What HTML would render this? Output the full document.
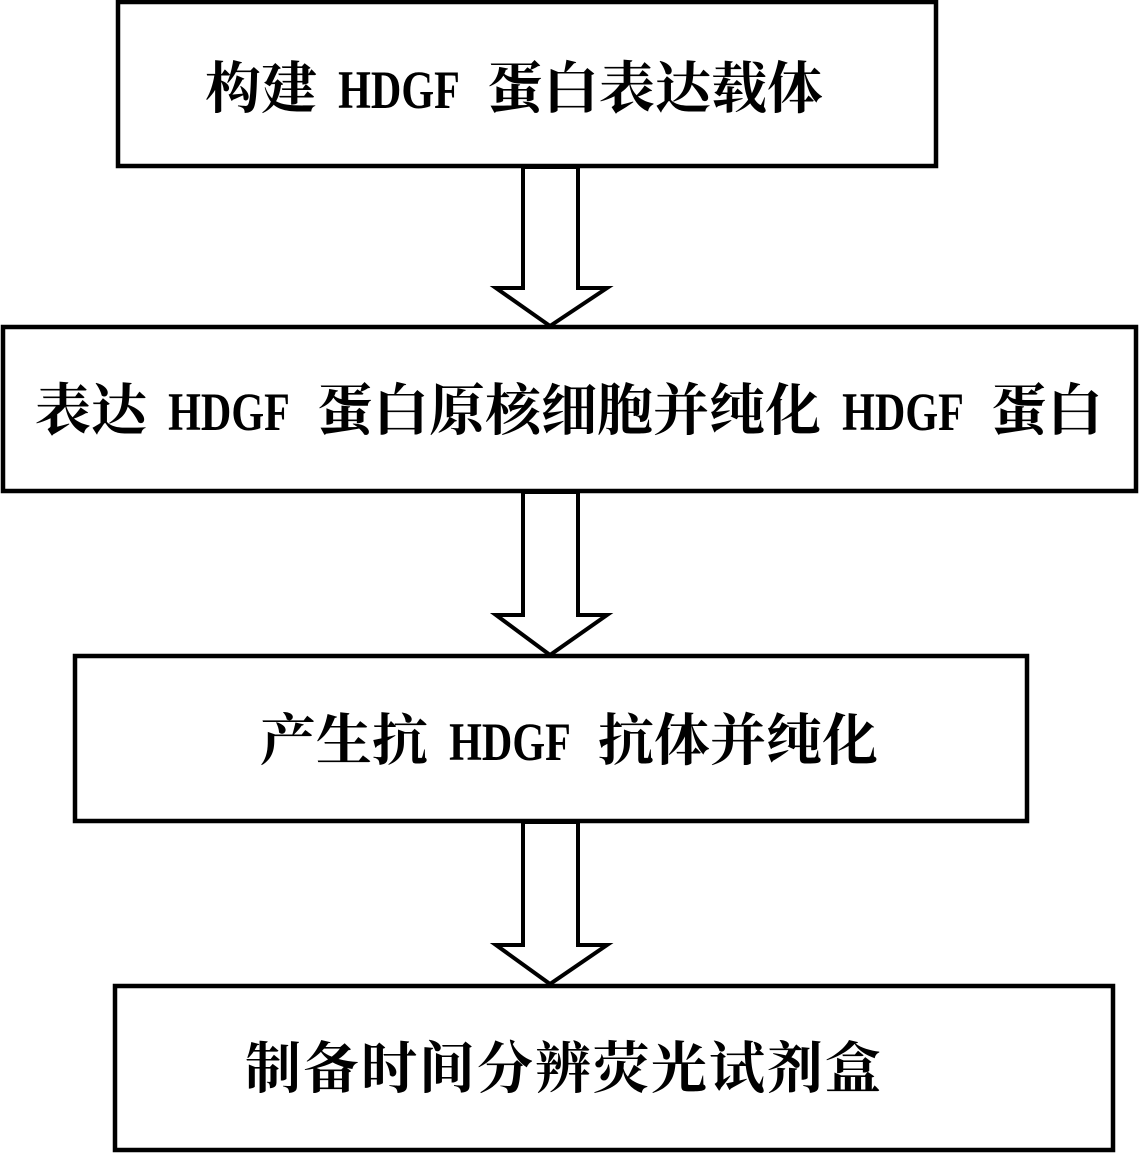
<!DOCTYPE html>
<html><head><meta charset="utf-8"><style>
html,body{margin:0;padding:0;background:#fff;}
body{width:1140px;height:1155px;position:relative;overflow:hidden;}
svg{position:absolute;left:0;top:0;}
.t{position:absolute;font-family:"Liberation Serif","Noto Serif CJK SC",serif;font-weight:bold;font-size:56px;line-height:56px;color:#000;white-space:nowrap;}
.t b{font-family:"Liberation Serif",serif;font-weight:bold;font-size:54px;transform:scaleX(0.78);display:inline-block;margin:0 -4px 0 4px;}
</style></head><body>
<svg width="1140" height="1155" viewBox="0 0 1140 1155">
<g fill="none" stroke="#000" stroke-width="4.5">
<rect x="118" y="2" width="818" height="164"/>
<rect x="3" y="327" width="1133" height="164"/>
<rect x="75" y="656" width="952" height="165"/>
<rect x="115" y="986" width="998" height="164"/>
</g>
<g fill="#fff" stroke="#000" stroke-width="4" stroke-linejoin="miter">
<polygon points="523,167 578,167 578,288 607,288 550,326 496,288 523,288"/>
<polygon points="523,492 578,492 578,615 607,615 550,655 496,615 523,615"/>
<polygon points="523,822 578,822 578,945 607,945 550,984 496,945 523,945"/>
</g>
</svg>
<div class="t" style="left:205px;top:62px;">构建<b>HDGF</b> 蛋白表达载体</div>
<div class="t" style="left:35px;top:384px;">表达<b>HDGF</b> 蛋白原核细胞并纯化<b>HDGF</b> 蛋白</div>
<div class="t" style="left:260px;top:714px;">产生抗<b>HDGF</b> 抗体并纯化</div>
<div class="t" style="left:245px;top:1042px;letter-spacing:2px;">制备时间分辨荧光试剂盒</div>
</body></html>
